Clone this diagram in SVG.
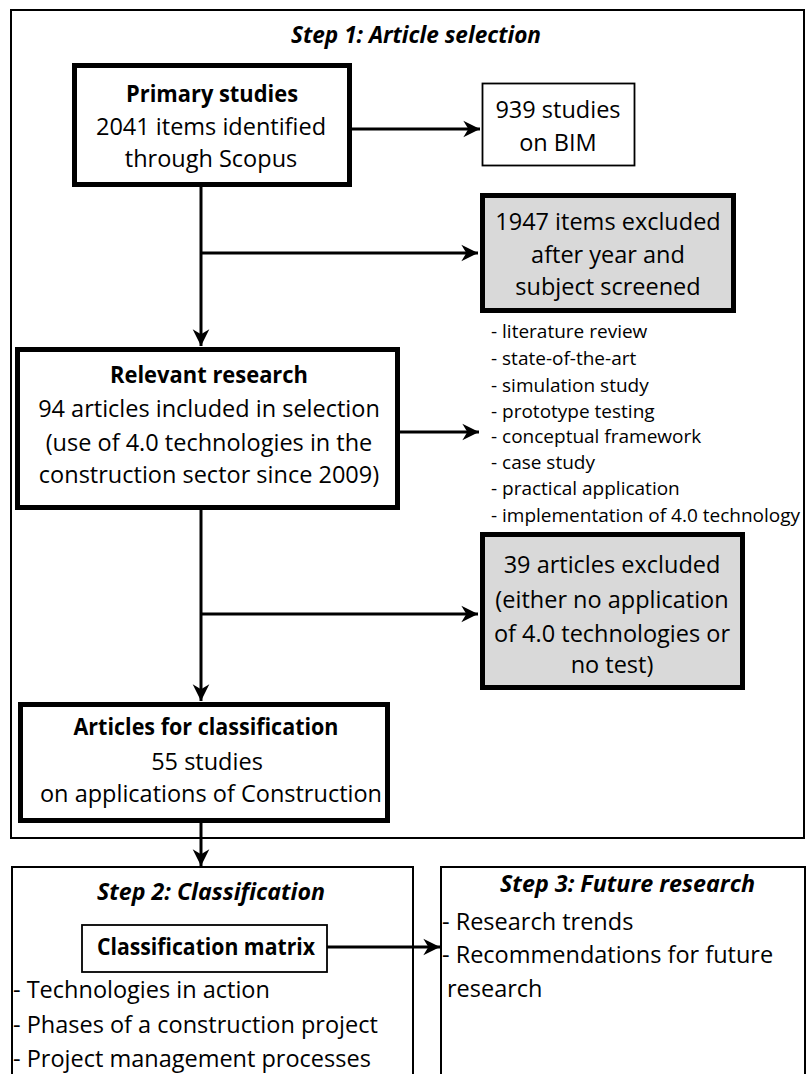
<svg xmlns="http://www.w3.org/2000/svg" width="809" height="1074" viewBox="0 0 809 1074">
<style>
text{font-family:"Open Sans","Liberation Sans",sans-serif;fill:#000;}
.t{font-size:23.5px;text-anchor:middle;}
.b{font-weight:bold;}
.bi{font-weight:bold;font-style:italic;font-size:23.5px;text-anchor:middle;}
.l{font-size:23.5px;}
.s{font-size:19px;}
.frame{fill:none;stroke:#000;stroke-width:2;}
.thick{fill:#fff;stroke:#000;stroke-width:5;}
.grey{fill:#d9d9d9;stroke:#000;stroke-width:5;}
.thin{fill:#fff;stroke:#000;stroke-width:1.8;}
.c{fill:none;stroke:#000;stroke-width:3;}
</style>
<defs>
<marker id="ah" markerUnits="userSpaceOnUse" markerWidth="20" markerHeight="20" viewBox="-16 -9 18 18" refX="0" refY="0" orient="auto">
<path d="M0,0 L-15,-7.5 L-10.5,0 L-15,7.5 Z" fill="#000"/>
</marker>
</defs>
<rect width="809" height="1074" fill="#fff"/>
<g id="step1-frame">
<rect class="frame" x="11" y="10" width="793" height="828"/>
<text class="bi" x="416" y="43" textLength="250" lengthAdjust="spacingAndGlyphs">Step 1: Article selection</text>
</g>
<g id="connectors">
<line class="c" x1="352" y1="129" x2="480" y2="129" marker-end="url(#ah)"/>
<line class="c" x1="201" y1="187" x2="201" y2="346" marker-end="url(#ah)"/>
<line class="c" x1="201" y1="253" x2="478" y2="253" marker-end="url(#ah)"/>
<line class="c" x1="400" y1="432" x2="479" y2="432" marker-end="url(#ah)"/>
<line class="c" x1="201" y1="510" x2="201" y2="701" marker-end="url(#ah)"/>
<line class="c" x1="201" y1="614" x2="478" y2="614" marker-end="url(#ah)"/>
<line class="c" x1="201" y1="823" x2="201" y2="866" marker-end="url(#ah)"/>
<line class="c" x1="327" y1="947" x2="440" y2="947" marker-end="url(#ah)"/>
</g>
<g id="primary">
<rect class="thick" x="74.5" y="65.5" width="275" height="119"/>
<text class="t b" x="212" y="102" textLength="172" lengthAdjust="spacingAndGlyphs">Primary studies</text>
<text class="t" x="211" y="135">2041 items identified</text>
<text class="t" x="211" y="167">through Scopus</text>
</g>
<g id="bim">
<rect class="thin" x="482.5" y="83.5" width="152" height="82"/>
<text class="t" x="558" y="118">939 studies</text>
<text class="t" x="558" y="151">on BIM</text>
</g>
<g id="excluded1947">
<rect class="grey" x="482.5" y="195.5" width="251" height="115"/>
<text class="t" x="608" y="230">1947 items excluded</text>
<text class="t" x="608" y="263">after year and</text>
<text class="t" x="608" y="295">subject screened</text>
</g>
<g id="relevant">
<rect class="thick" x="17.5" y="349.5" width="380" height="158"/>
<text class="t b" x="209" y="383" textLength="198" lengthAdjust="spacingAndGlyphs">Relevant research</text>
<text class="t" x="209" y="417">94 articles included in selection</text>
<text class="t" x="209" y="451">(use of 4.0 technologies in the</text>
<text class="t" x="209" y="483">construction sector since 2009)</text>
</g>
<g id="types">
<text class="s" x="491" y="338">- literature review</text>
<text class="s" x="491" y="365">- state-of-the-art</text>
<text class="s" x="491" y="392">- simulation study</text>
<text class="s" x="491" y="418">- prototype testing</text>
<text class="s" x="491" y="443">- conceptual framework</text>
<text class="s" x="491" y="469">- case study</text>
<text class="s" x="491" y="495">- practical application</text>
<text class="s" x="491" y="522">- implementation of 4.0 technology</text>
</g>
<g id="excluded39">
<rect class="grey" x="482.5" y="534.5" width="260" height="153"/>
<text class="t" x="612" y="573">39 articles excluded</text>
<text class="t" x="612" y="608">(either no application</text>
<text class="t" x="612" y="642">of 4.0 technologies or</text>
<text class="t" x="612" y="673">no test)</text>
</g>
<g id="articles">
<rect class="thick" x="20.5" y="704.5" width="367" height="116"/>
<text class="t b" x="206" y="735" textLength="265" lengthAdjust="spacingAndGlyphs">Articles for classification</text>
<text class="t" x="207" y="770">55 studies</text>
<text class="t" x="211" y="802">on applications of Construction</text>
</g>
<g id="step2">
<rect class="frame" x="12" y="867" width="401" height="220"/>
<text class="bi" x="211" y="900" textLength="228" lengthAdjust="spacingAndGlyphs">Step 2: Classification</text>
<text class="l" x="13" y="998">- Technologies in action</text>
<text class="l" x="13" y="1033">- Phases of a construction project</text>
<text class="l" x="13" y="1067">- Project management processes</text>
</g>
<g id="matrix">
<rect class="thin" x="82" y="925" width="245" height="47"/>
<text class="t b" x="206" y="955" textLength="218" lengthAdjust="spacingAndGlyphs">Classification matrix</text>
</g>
<g id="step3">
<rect class="frame" x="441" y="867" width="364" height="220"/>
<text class="bi" x="627.5" y="892" textLength="255" lengthAdjust="spacingAndGlyphs">Step 3: Future research</text>
<text class="l" x="442" y="930">- Research trends</text>
<text class="l" x="442" y="963">- Recommendations for future</text>
<text class="l" x="447" y="997">research</text>
</g>
</svg>
